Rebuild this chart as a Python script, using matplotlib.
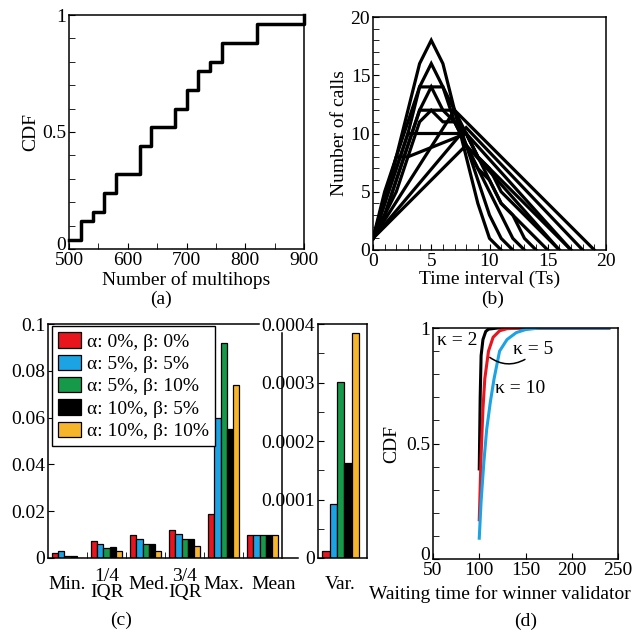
import matplotlib
matplotlib.use('Agg')
import matplotlib.pyplot as plt
import matplotlib.transforms as mtransforms
from matplotlib.ticker import MultipleLocator, FixedLocator

plt.rcParams['font.family'] = ['Liberation Serif', 'DejaVu Serif']
plt.rcParams['font.size'] = 14
plt.rcParams['xtick.direction'] = 'in'
plt.rcParams['ytick.direction'] = 'in'
plt.rcParams['xtick.major.size'] = 4.5
plt.rcParams['ytick.major.size'] = 4.5
plt.rcParams['xtick.minor.size'] = 4.5
plt.rcParams['ytick.minor.size'] = 4.5
plt.rcParams['axes.linewidth'] = 1.1
plt.rcParams['xtick.major.pad'] = 2
plt.rcParams['ytick.major.pad'] = 2

# (a) CDF of number of multihops
multihops = [500, 520, 540, 560, 580, 620, 640, 680, 700, 720, 740, 760, 820, 900]
cdf_hops = [0.04, 0.12, 0.16, 0.24, 0.32, 0.44, 0.52, 0.60, 0.68, 0.76, 0.80, 0.88, 0.96, 1.0]

# (b) number of calls per time interval, one polyline per run
calls_x = [
    [0, 1, 2, 3, 4, 5, 6, 7, 8, 9, 10, 11],
    [0, 1, 2, 3, 4, 5, 6, 7, 8, 9, 10, 11, 12],
    [0, 1, 2, 3, 4, 5, 6, 7, 8, 9, 10, 11, 12, 13],
    [0, 1, 2, 3, 4, 5, 6, 7, 8, 9, 10, 11, 12, 13, 14],
    [0, 1, 2, 3, 4, 5, 6, 7, 8, 9, 10, 11, 12, 13, 14, 15],
    [0, 1, 2, 3, 4, 5, 6, 7, 8, 9, 10, 11, 12, 13, 14, 15, 16],
    [0, 1, 2, 3, 4, 5, 6, 7, 8, 9, 10, 11, 12, 13, 14, 15, 16, 17],
    [0, 2, 3, 8, 17],
    [0, 7, 19],
    [0, 8, 18],
    [0, 8, 16],
]
calls_y = [
    [1, 5, 8, 12, 16, 18, 16, 12, 8, 4, 1, 0],
    [1, 4, 8, 11, 14, 16, 14, 12, 9, 6, 3, 1, 0],
    [1, 4, 7, 10, 14, 14, 14, 11, 9, 7, 5, 3, 1, 0],
    [1, 3, 6, 9, 12, 14, 12, 11, 9, 7, 6, 4, 3, 1, 0],
    [1, 3, 6, 9, 12, 12, 12, 12, 10, 8, 6, 4, 3, 2, 1, 0],
    [1, 3, 5, 8, 11, 12, 11, 11, 10, 8, 7, 5, 4, 3, 2, 1, 0],
    [1, 4, 7, 10, 10, 10, 10, 10, 10, 8, 7, 6, 5, 4, 3, 2, 1, 0],
    [1, 8, 8, 10, 0],
    [1, 12, 0],
    [1, 10.5, 0],
    [1, 9, 0],
]

# (c) statistics of the five settings
stat_names = ['Min.', '1/4\nIQR', 'Med.', '3/4\nIQR', 'Max.', 'Mean']
settings = ['α: 0%, β: 0%', 'α: 5%, β: 5%', 'α: 5%, β: 10%',
            'α: 10%, β: 5%', 'α: 10%, β: 10%']
colors = ['#e8141e', '#1ca3e3', '#17994a', '#000000', '#f7b52c']
stat_vals = [
    [0.002, 0.0072, 0.0098, 0.012, 0.019, 0.010],
    [0.003, 0.006, 0.0082, 0.0102, 0.060, 0.010],
    [0.001, 0.0042, 0.006, 0.008, 0.092, 0.010],
    [0.001, 0.0045, 0.006, 0.008, 0.055, 0.010],
    [0.0002, 0.003, 0.003, 0.0052, 0.074, 0.010],
]
var_vals = [0.000012, 0.000093, 0.000301, 0.000162, 0.000385]

# (d) CDF of waiting time
kappa_labels = ['κ = 2', 'κ = 5', 'κ = 10']
kappa_colors = ['#000000', '#e8141e', '#1ca3e3']
wait_x = [
    [100, 101, 102, 104, 107, 110, 120, 240],
    [100, 102, 104, 106, 110, 115, 122, 130, 145, 240],
    [100, 102, 105, 108, 112, 116, 122, 130, 140, 150, 165, 240],
]
wait_cdf = [
    [0.39, 0.70, 0.88, 0.95, 0.985, 0.995, 1.0, 1.0],
    [0.17, 0.45, 0.65, 0.78, 0.90, 0.96, 0.988, 0.997, 1.0, 1.0],
    [0.09, 0.25, 0.42, 0.56, 0.68, 0.78, 0.90, 0.95, 0.98, 0.993, 1.0, 1.0],
]

W = 632.0


def box(l, r, t, b):
    return [l / W, 1 - b / W, (r - l) / W, (b - t) / W]


def lift_zero(fig, ax, dy=5):
    # nudge the "0" y label up so it does not sit on the first x label
    fig.canvas.draw()
    lab = ax.get_yticklabels()[0]
    off = mtransforms.ScaledTranslation(0, dy / 100.0, fig.dpi_scale_trans)
    lab.set_transform(lab.get_transform() + off)


fig = plt.figure(figsize=(6.32, 6.32), dpi=100)

# ---- (a)
ax_a = fig.add_axes(box(69, 304, 15, 249))
ax_a.step(multihops, cdf_hops, where='post', color='k', lw=2.5, clip_on=False)
ax_a.set_xlim(500, 900)
ax_a.set_ylim(0, 1)
ax_a.xaxis.set_major_locator(MultipleLocator(100))
ax_a.xaxis.set_minor_locator(MultipleLocator(50))
ax_a.set_yticks([0, 0.5, 1])
ax_a.set_yticklabels(['0', '0.5', '1'])
ax_a.yaxis.set_minor_locator(MultipleLocator(0.1))
ax_a.set_ylabel('CDF', labelpad=2)
ax_a.set_xlabel('Number of multihops', labelpad=1.5)
fig.text(161 / W, 1 - 299 / W, '(a)', ha='center', va='center')

# ---- (b)
ax = fig.add_axes(box(373, 606, 17, 250))
for xs, ys in zip(calls_x, calls_y):
    ax.plot(xs, ys, color='k', lw=2.3, solid_joinstyle='miter')
ax.set_xlim(0, 20)
ax.set_ylim(0, 20)
ax.xaxis.set_major_locator(MultipleLocator(5))
ax.xaxis.set_minor_locator(MultipleLocator(1))
ax.yaxis.set_major_locator(MultipleLocator(5))
ax.yaxis.set_minor_locator(MultipleLocator(1))
ax.set_ylabel('Number of calls', labelpad=2)
ax.set_xlabel('Time interval (Ts)', labelpad=1)
fig.text(493 / W, 1 - 299 / W, '(b)', ha='center', va='center')

# ---- (c) left
ax = fig.add_axes(box(48, 298, 324, 558))
n = len(settings)
bw = 0.16
for i in range(n):
    pos = [g + (i - (n - 1) / 2) * bw for g in range(len(stat_names))]
    ax.bar(pos, stat_vals[i], width=bw, color=colors[i], edgecolor='k',
           lw=0.9, label=settings[i])
ax.set_xlim(-0.5, 5.9)
ax.set_ylim(0, 0.1)
ax.set_yticks([0, 0.02, 0.04, 0.06, 0.08, 0.1])
ax.set_yticklabels(['0', '0.02', '0.04', '0.06', '0.08', '0.1'])
ax.set_xticks([0, 1, 2.08, 3, 4, 5.28])
ax.set_xticklabels(stat_names, linespacing=0.9)
ax.xaxis.set_minor_locator(FixedLocator([0.5, 1.5, 2.5, 3.5, 4.5]))
ax.tick_params(axis='x', which='major', length=0, pad=19)
ax.tick_params(axis='x', which='minor', length=4)
for lab in ax.get_xticklabels():
    lab.set_verticalalignment('center')
ax.spines['right'].set_visible(False)
ax.spines['top'].set_visible(False)
ax.plot([-0.5, 4.9], [0.1, 0.1], color='k', lw=1.1, clip_on=False)
ax.plot([5.48, 5.48], [0, 0.096], color='k', lw=1.1, clip_on=False)
ax.legend(loc='upper left', bbox_to_anchor=(0.015, 0.99), fancybox=False,
          edgecolor='k', framealpha=1, handlelength=1.2, handleheight=0.85,
          handletextpad=0.3, borderpad=0.3, labelspacing=0.2,
          borderaxespad=0)
fig.text(121 / W, 1 - 620 / W, '(c)', ha='center', va='center')

# ---- (c) right: variance
ax = fig.add_axes(box(318, 367, 324, 558))
ax.bar(range(n), var_vals, width=1.0, color=colors, edgecolor='k', lw=0.9)
ax.set_xlim(-1.05, 5.55)
ax.set_ylim(0, 0.0004)
ax.set_yticks([0, 0.0001, 0.0002, 0.0003, 0.0004])
ax.set_yticklabels(['0', '0.0001', '0.0002', '0.0003', '0.0004'])
ax.yaxis.set_minor_locator(MultipleLocator(0.00005))
ax.set_xticks([2])
ax.set_xticklabels(['Var.'])
ax.tick_params(axis='x', length=0, pad=19)
for lab in ax.get_xticklabels():
    lab.set_verticalalignment('center')

# ---- (d)
ax_d = fig.add_axes(box(433, 618, 328, 559))
for xs, ys, c in zip(wait_x, wait_cdf, kappa_colors):
    ax_d.plot(xs, ys, color=c, lw=2.2)
ax_d.set_xlim(50, 250)
ax_d.set_ylim(0, 1)
ax_d.xaxis.set_major_locator(MultipleLocator(50))
ax_d.set_yticks([0, 0.5, 1])
ax_d.set_yticklabels(['0', '0.5', '1'])
ax_d.yaxis.set_minor_locator(MultipleLocator(0.1))
ax_d.set_ylabel('CDF', labelpad=4)
ax_d.set_xlabel('Waiting time for winner validator', labelpad=0)
ax_d.xaxis.set_label_coords(0.36, -0.115)
ax_d.text(54, 0.948, kappa_labels[0], va='center', ha='left')
ax_d.text(136, 0.905, kappa_labels[1], va='center', ha='left')
ax_d.text(117, 0.74, kappa_labels[2], va='center', ha='left')
ax_d.annotate('', xy=(109, 0.88), xytext=(152, 0.87),
              arrowprops=dict(arrowstyle='-', lw=1.1, color='k',
                              connectionstyle='arc3,rad=-0.35'))
fig.text(526 / W, 1 - 621 / W, '(d)', ha='center', va='center')

lift_zero(fig, ax_a)
lift_zero(fig, ax_d)

fig.savefig('out.png', dpi=100)
